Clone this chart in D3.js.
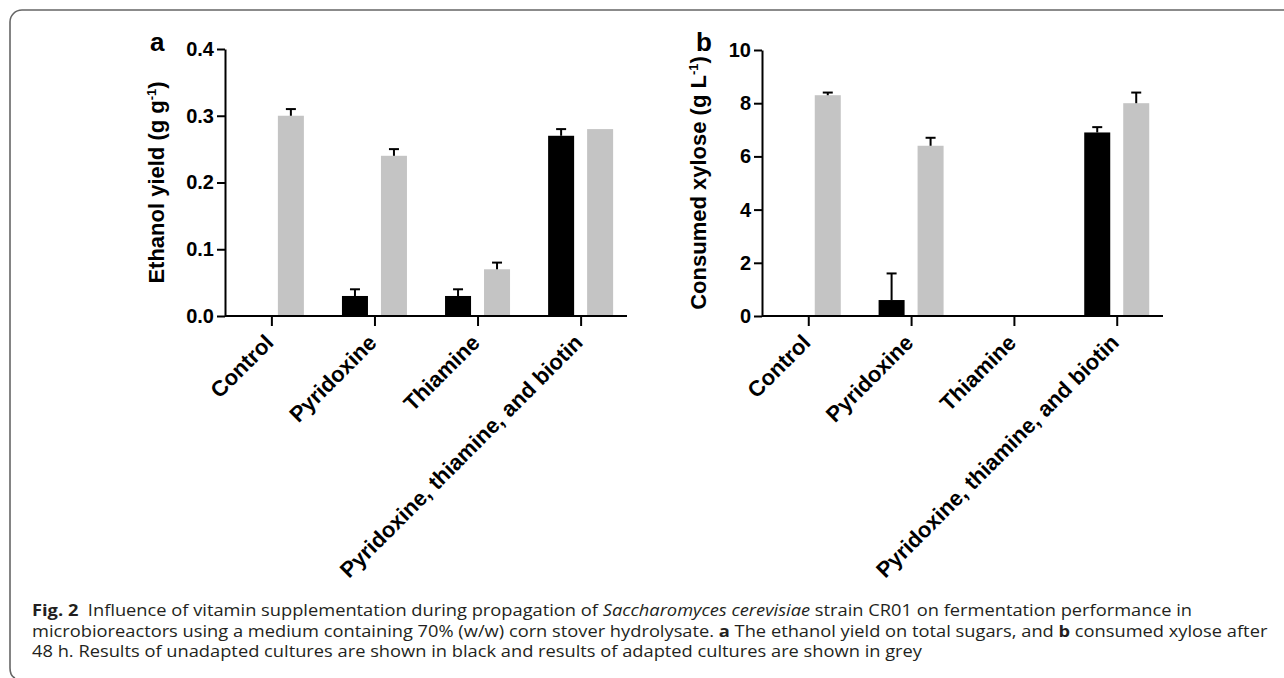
<!DOCTYPE html>
<html>
<head>
<meta charset="utf-8">
<style>
  body { margin: 0; background: #fff; }
  svg { display: block; }
  .axis text { font-family: Arial, "Liberation Sans", sans-serif; font-weight: bold; fill: #000; }
  .lbl { font-family: Arial, "Liberation Sans", sans-serif; font-weight: bold; fill: #000; }
  .cap { font-family: "Open Sans", sans-serif; fill: #231f20; }
</style>
<script src="https://d3js.org/d3.v7.min.js"></script>
</head>
<body>
<script>
// data
var categories = ["Control", "Pyridoxine", "Thiamine", "Pyridoxine, thiamine, and biotin"];
var series = ["unadapted", "adapted"];

var yieldUnadapted    = [0, 0.03, 0.03, 0.27];
var yieldUnadaptedErr = [0, 0.01, 0.01, 0.01];
var yieldAdapted      = [0.30, 0.24, 0.07, 0.28];
var yieldAdaptedErr   = [0.01, 0.01, 0.01, 0];

var xyloseUnadapted    = [0, 0.6, 0, 6.9];
var xyloseUnadaptedErr = [0, 1.0, 0, 0.2];
var xyloseAdapted      = [8.3, 6.4, 0, 8.0];
var xyloseAdaptedErr   = [0.1, 0.3, 0, 0.4];

var yieldTicks  = [0, 0.1, 0.2, 0.3, 0.4];
var xyloseTicks = [0, 2, 4, 6, 8, 10];

var colors = {unadapted: "#000000", adapted: "#c4c4c4"};

var W = 1284, H = 678;
var svg = d3.select("body").append("svg").attr("width", W).attr("height", H);

// frame round the figure
svg.append("path")
  .attr("d", "M15,678 Q10,676 10,668 L10,22 A12,12 0 0 1 22,10 L1284,10")
  .attr("fill", "none").attr("stroke", "#666").attr("stroke-width", 1.6);

function panel(opt) {
  var g = svg.append("g");
  var y = d3.scaleLinear().domain([0, opt.ticks[opt.ticks.length - 1]]).range([316, opt.top]);
  var x = d3.scalePoint().domain(categories).range([opt.left, opt.right]).padding(0.45);
  var xs = d3.scaleBand().domain(series).range([-32.5, 32.5]).paddingInner(0.333);

  var rows = [];
  categories.forEach(function(c, i) {
    rows.push({cat: c, s: "unadapted", v: opt.un[i], e: opt.unErr[i]});
    rows.push({cat: c, s: "adapted", v: opt.ad[i], e: opt.adErr[i]});
  });

  // bars
  g.selectAll("rect.bar").data(rows.filter(function(d){ return d.v > 0; }))
    .enter().append("rect").attr("class", "bar")
    .attr("x", function(d){ return x(d.cat) + xs(d.s); })
    .attr("y", function(d){ return y(d.v); })
    .attr("width", xs.bandwidth())
    .attr("height", function(d){ return y(0) - y(d.v); })
    .attr("fill", function(d){ return colors[d.s]; });

  // error bars (upper only)
  var eb = rows.filter(function(d){ return d.e > 0; });
  g.selectAll("line.err").data(eb).enter().append("line")
    .attr("x1", function(d){ return x(d.cat) + xs(d.s) + xs.bandwidth()/2; })
    .attr("x2", function(d){ return x(d.cat) + xs(d.s) + xs.bandwidth()/2; })
    .attr("y1", function(d){ return y(d.v); })
    .attr("y2", function(d){ return y(d.v + d.e); })
    .attr("stroke", "#000").attr("stroke-width", 2);
  g.selectAll("line.cap").data(eb).enter().append("line")
    .attr("x1", function(d){ return x(d.cat) + xs(d.s) + xs.bandwidth()/2 - 5; })
    .attr("x2", function(d){ return x(d.cat) + xs(d.s) + xs.bandwidth()/2 + 5; })
    .attr("y1", function(d){ return y(d.v + d.e); })
    .attr("y2", function(d){ return y(d.v + d.e); })
    .attr("stroke", "#000").attr("stroke-width", 2);

  // y axis
  var ya = g.append("g").attr("class", "axis")
    .attr("transform", "translate(" + opt.left + ",0)")
    .call(d3.axisLeft(y).tickValues(opt.ticks).tickFormat(opt.fmt).tickSize(8).tickSizeOuter(0).tickPadding(3));
  ya.selectAll("path, line").attr("stroke", "#000").attr("stroke-width", 2);
  ya.selectAll("text").style("font-size", "20px");

  // x axis
  var xa = g.append("g").attr("class", "axis")
    .attr("transform", "translate(0,316)")
    .call(d3.axisBottom(x).tickSize(10).tickSizeOuter(0));
  xa.select("path.domain").attr("d", "M" + opt.left + ",0H" + opt.right);
  xa.selectAll("path, line").attr("stroke", "#000").attr("stroke-width", 2);
  xa.selectAll("text")
    .style("font-size", "22px")
    .attr("text-anchor", "end")
    .attr("y", 0).attr("dy", 0)
    .attr("transform", "translate(3,28) rotate(-45)");

  // y title
  var t = g.append("text").attr("class", "lbl")
    .attr("transform", "translate(" + opt.titleX + "," + ((316 + opt.top) / 2) + ") rotate(-90)")
    .attr("text-anchor", "middle").style("font-size", "22px");
  t.append("tspan").text(opt.title);
  t.append("tspan").attr("dy", -8).style("font-size", "13px").text("-1");
  t.append("tspan").attr("dy", 8).text(")");

  // panel letter
  g.append("text").attr("class", "lbl")
    .attr("x", opt.letterX).attr("y", 51)
    .style("font-size", "26px").text(opt.letter);
}

panel({left: 225, right: 627, top: 49, ticks: yieldTicks, fmt: d3.format(".1f"),
  un: yieldUnadapted, unErr: yieldUnadaptedErr, ad: yieldAdapted, adErr: yieldAdaptedErr,
  title: "Ethanol yield (g g", titleX: 164, letter: "a", letterX: 150});

panel({left: 762, right: 1163, top: 50, ticks: xyloseTicks, fmt: d3.format("d"),
  un: xyloseUnadapted, unErr: xyloseUnadaptedErr, ad: xyloseAdapted, adErr: xyloseAdaptedErr,
  title: "Consumed xylose (g L", titleX: 706, letter: "b", letterX: 696});

// caption
var cap = svg.append("g").attr("class", "cap").style("font-size", "15.5px");
var l1 = cap.append("text").attr("x", 32).attr("y", 616);
l1.append("tspan").style("font-weight", "bold").text("Fig. 2");
l1.append("tspan").text("\u00a0 Influence of vitamin supplementation during propagation of ");
l1.append("tspan").style("font-style", "italic").text("Saccharomyces cerevisiae");
l1.append("tspan").text(" strain CR01 on fermentation performance in");

var l2 = cap.append("text").attr("x", 32).attr("y", 636.5);
l2.append("tspan").text("microbioreactors using a medium containing 70% (w/w) corn stover hydrolysate. ");
l2.append("tspan").style("font-weight", "bold").text("a");
l2.append("tspan").text(" The ethanol yield on total sugars, and ");
l2.append("tspan").style("font-weight", "bold").text("b");
l2.append("tspan").text(" consumed xylose after");

var l3 = cap.append("text").attr("x", 32).attr("y", 657)
  .text("48 h. Results of unadapted cultures are shown in black and results of adapted cultures are shown in grey");

// squeeze the caption like the narrow journal font: line 1 sets the factor
var k = 1160 / l1.node().getComputedTextLength();
[l1, l2, l3].forEach(function(l){
  l.attr("textLength", l.node().getComputedTextLength() * k).attr("lengthAdjust", "spacingAndGlyphs");
});
</script>
</body>
</html>
